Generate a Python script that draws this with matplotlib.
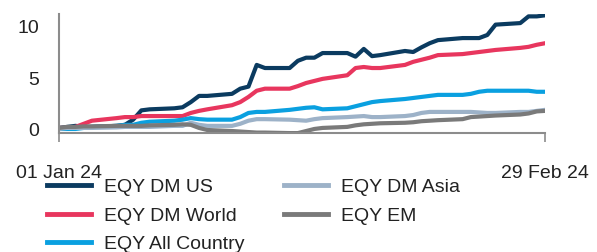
import matplotlib
matplotlib.use("Agg")
import matplotlib.pyplot as plt
import pandas as pd

plt.rcParams['font.family'] = ['Liberation Sans', 'DejaVu Sans']

dates = pd.bdate_range("2024-01-01", "2024-02-29")

dm_us = [0.2, 0.3, 0.4, 0.3, 0.3, 0.4, 0.5, 1.0, 1.9, 2.0,
         2.1, 2.2, 2.7, 3.3, 3.3, 3.5, 4.0, 4.2, 6.3, 6.0,
         6.0, 6.7, 7.0, 7.0, 7.45, 7.45, 7.1, 7.85, 7.15, 7.25,
         7.65, 7.55, 8.0, 8.4, 8.7, 8.9, 8.9, 8.9, 9.2, 10.2,
         10.35, 11.0, 11.0, 11.1]
dm_world = [0.2, 0.2, 0.3, 0.6, 0.9, 1.15, 1.25, 1.25, 1.35, 1.35,
            1.35, 1.35, 1.65, 1.85, 2.0, 2.4, 2.7, 3.2, 3.8, 4.0,
            4.0, 4.25, 4.55, 4.75, 4.95, 5.3, 6.0, 6.1, 6.0, 6.0,
            6.3, 6.6, 6.8, 7.0, 7.25, 7.35, 7.45, 7.55, 7.65, 7.75,
            7.95, 8.05, 8.25, 8.4]
all_country = [0.1, 0.1, 0.1, 0.2, 0.3, 0.4, 0.5, 0.5, 0.7, 0.8,
               0.9, 1.0, 1.15, 1.05, 1.0, 1.0, 1.25, 1.65, 1.75, 1.75,
               1.95, 2.05, 2.15, 2.2, 2.0, 2.1, 2.3, 2.5, 2.7, 2.8,
               3.0, 3.1, 3.2, 3.3, 3.4, 3.4, 3.5, 3.7, 3.8, 3.8,
               3.8, 3.8, 3.7, 3.7]
dm_asia = [0.1, 0.2, 0.2, 0.2, 0.2, 0.25, 0.3, 0.3, 0.3, 0.3,
           0.4, 0.4, 0.7, 0.5, 0.4, 0.4, 0.6, 0.9, 1.05, 1.05,
           1.0, 0.95, 0.9, 1.05, 1.15, 1.25, 1.3, 1.35, 1.25, 1.25,
           1.35, 1.45, 1.65, 1.75, 1.75, 1.75, 1.75, 1.7, 1.65, 1.65,
           1.75, 1.75, 1.85, 1.95]
em = [0.2, 0.3, 0.3, 0.35, 0.35, 0.4, 0.4, 0.4, 0.4, 0.45,
      0.5, 0.55, 0.5, 0.2, 0.0, -0.1, -0.15, -0.2, -0.25, -0.25,
      -0.3, -0.3, -0.1, 0.1, 0.2, 0.3, 0.45, 0.55, 0.6, 0.65,
      0.7, 0.75, 0.85, 0.9, 0.95, 1.05, 1.25, 1.3, 1.35, 1.4,
      1.5, 1.6, 1.8, 1.85]

series_names = ["EQY DM US", "EQY DM World", "EQY All Country", "EQY DM Asia", "EQY EM"]
series_values = [dm_us, dm_world, all_country, dm_asia, em]
colors = ["#0B3B60", "#E8365E", "#0AA0E0", "#9DB2C8", "#7A7A7A"]
y_ticks = [0, 5, 10]
x_tick_labels = ["01 Jan 24", "29 Feb 24"]

fig = plt.figure(figsize=(5.97, 2.52), dpi=100)
ax = fig.add_axes([59/597, 1-133.3/252, (545-59)/597, (133.3-14)/252])

for name, vals, c in zip(series_names, series_values, colors):
    ax.plot(dates, vals, color=c, lw=3.0, label=name, solid_joinstyle='round')

ax.set_xlim(dates[0], dates[-1])
ax.set_ylim(-0.32, 11.23)
ax.set_yticks(y_ticks)
ax.set_xticks([dates[0], dates[-1]])
ax.set_xticklabels(x_tick_labels)

spine_c = "#8C8C8C"
for s in ["top", "right"]:
    ax.spines[s].set_visible(False)
for s in ["left", "bottom"]:
    ax.spines[s].set_color(spine_c)
    ax.spines[s].set_linewidth(1.5)
ax.tick_params(axis='y', length=0, pad=14, labelsize=14, labelcolor="#222222")
ax.tick_params(axis='x', length=6.5, width=1.2, color=spine_c, pad=16,
               labelsize=14, labelcolor="#222222")

fig.legend(loc='upper left', bbox_to_anchor=(47/597, 1-178.5/252),
           bbox_transform=fig.transFigure, ncol=2, frameon=False,
           fontsize=14, handlelength=2.27, handletextpad=0.67,
           columnspacing=2.0, labelspacing=0.56, borderpad=0, borderaxespad=0)
for lh in fig.legends[0].get_lines():
    lh.set_linewidth(3.5)
for t in fig.legends[0].get_texts():
    t.set_color("#222222")

fig.savefig("out.png", dpi=100)
